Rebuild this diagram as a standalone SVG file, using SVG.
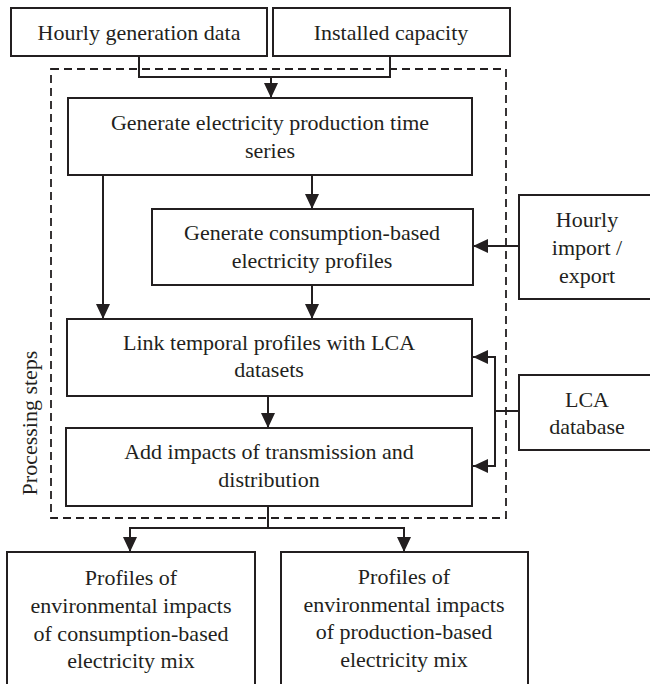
<svg xmlns="http://www.w3.org/2000/svg" width="650" height="684" viewBox="0 0 650 684">
<style>
.box{fill:#fff;stroke:#231f20;stroke-width:2}
.t{font-family:'Liberation Serif','Times New Roman',Times,'DejaVu Serif',serif;font-size:22px;fill:#231f20;text-anchor:middle}
.c{fill:none;stroke:#231f20;stroke-width:2}
.dash{fill:none;stroke:#231f20;stroke-width:1.8;stroke-dasharray:8 5}
</style>
<defs>
<marker id="ah" markerUnits="userSpaceOnUse" markerWidth="16" markerHeight="15" refX="15" refY="7" orient="auto">
<path d="M0,0 L15,7 L0,14 z" fill="#231f20"/>
</marker>
</defs>
<rect width="650" height="684" fill="#fff"/>
<g id="processing">
<rect class="dash" x="51" y="69" width="455" height="449"/>
<text class="t" font-family="Liberation Serif, serif" transform="translate(37,423) rotate(-90)" x="0" y="0">Processing steps</text>
</g>
<g id="connectors">
<path class="c" d="M139,56 V77 H390 V56"/>
<path class="c" d="M271,77 V98" marker-end="url(#ah)"/>
<path class="c" d="M103,175 V319" marker-end="url(#ah)"/>
<path class="c" d="M312,175 V209" marker-end="url(#ah)"/>
<path class="c" d="M312,285 V319" marker-end="url(#ah)"/>
<path class="c" d="M519,246 H473" marker-end="url(#ah)"/>
<path class="c" d="M519,411 H495"/>
<path class="c" d="M495,357 V466"/>
<path class="c" d="M496,357 H473" marker-end="url(#ah)"/>
<path class="c" d="M496,466 H473" marker-end="url(#ah)"/>
<path class="c" d="M268,396 V428" marker-end="url(#ah)"/>
<path class="c" d="M268,506 V528"/>
<path class="c" d="M130,528 H404"/>
<path class="c" d="M130,527 V552" marker-end="url(#ah)"/>
<path class="c" d="M404,527 V552" marker-end="url(#ah)"/>
</g>
<g id="hourly-generation">
<rect class="box" x="11" y="8" width="256" height="48"/>
<text class="t" x="139" y="40">Hourly generation data</text>
</g>
<g id="installed-capacity">
<rect class="box" x="273" y="8" width="237" height="48"/>
<text class="t" x="391" y="40">Installed capacity</text>
</g>
<g id="gen-production">
<rect class="box" x="68" y="98" width="404" height="77"/>
<text class="t" x="270" y="130">Generate electricity production time</text>
<text class="t" x="270" y="158">series</text>
</g>
<g id="gen-consumption">
<rect class="box" x="152" y="209" width="321" height="76"/>
<text class="t" x="312" y="240">Generate consumption-based</text>
<text class="t" x="312" y="268">electricity profiles</text>
</g>
<g id="hourly-import">
<rect class="box" x="519" y="195" width="140" height="104"/>
<text class="t" x="587" y="227">Hourly</text>
<text class="t" x="587" y="255">import /</text>
<text class="t" x="587" y="283">export</text>
</g>
<g id="link-lca">
<rect class="box" x="67" y="319" width="405" height="77"/>
<text class="t" x="269" y="350">Link temporal profiles with LCA</text>
<text class="t" x="269" y="377">datasets</text>
</g>
<g id="lca-database">
<rect class="box" x="519" y="375" width="140" height="75"/>
<text class="t" x="587" y="407">LCA</text>
<text class="t" x="587" y="434">database</text>
</g>
<g id="add-impacts">
<rect class="box" x="66" y="428" width="406" height="78"/>
<text class="t" x="269" y="459">Add impacts of transmission and</text>
<text class="t" x="269" y="487">distribution</text>
</g>
<g id="profiles-consumption">
<rect class="box" x="7" y="552" width="248" height="140"/>
<text class="t" x="131" y="585">Profiles of</text>
<text class="t" x="131" y="613">environmental impacts</text>
<text class="t" x="131" y="641">of consumption-based</text>
<text class="t" x="131" y="668">electricity mix</text>
</g>
<g id="profiles-production">
<rect class="box" x="281" y="552" width="247" height="140"/>
<text class="t" x="404" y="584">Profiles of</text>
<text class="t" x="404" y="612">environmental impacts</text>
<text class="t" x="404" y="639">of production-based</text>
<text class="t" x="404" y="667">electricity mix</text>
</g>
</svg>
